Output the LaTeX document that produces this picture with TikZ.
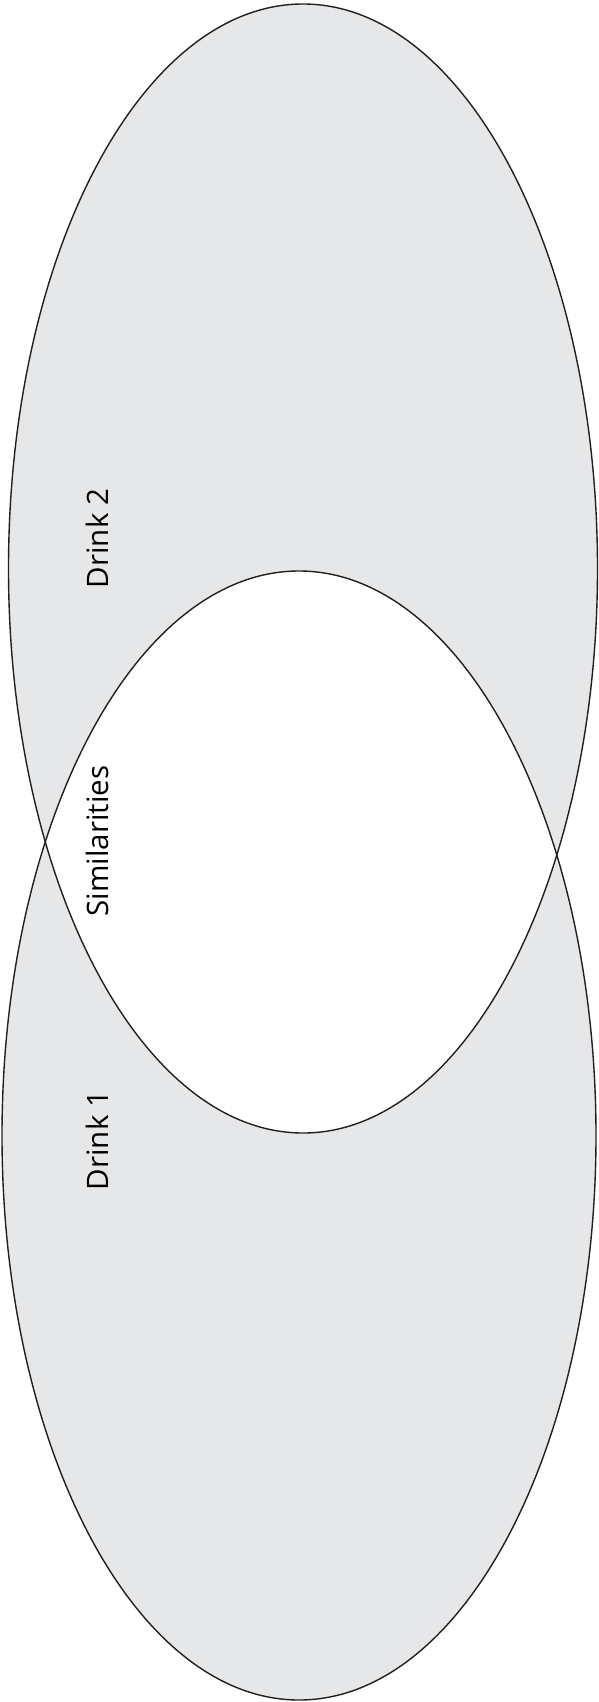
\documentclass[tikz,border=0pt]{standalone}
\usepackage{fontspec}
\setmainfont{Open Sans}
\usetikzlibrary{positioning}

\definecolor{setgrey}{HTML}{E6E7E9}
\definecolor{setline}{HTML}{231F20}

\begin{document}
\begin{tikzpicture}[x=1pt,y=-1pt,
  setlabel/.style={rotate=90,font=\fontsize{29.5}{35}\selectfont,inner sep=0pt}]
  \useasboundingbox (0,0) rectangle (599,1702);
  \coordinate (Ctwo) at (303,568.5);
  \coordinate (Cone) at (299,1135.5);
  % the two sets, overlap left white
  \fill[setgrey,even odd rule]
    (Ctwo) ellipse [x radius=294.5pt,y radius=564.5pt]
    (Cone) ellipse [x radius=297pt,y radius=564.5pt];
  \draw[setline,line width=1.4pt] (Ctwo) ellipse [x radius=294.5pt,y radius=564.5pt];
  \draw[setline,line width=1.4pt] (Cone) ellipse [x radius=297pt,y radius=564.5pt];
  \node[setlabel] (drinktwo) at (97.5,538.5) {Drink 2};
  \node[setlabel] (similar) at (97.5,841) {Similarities};
  \node[setlabel] (drinkone) at (97.5,1140.5) {Drink 1};
\end{tikzpicture}
\end{document}
